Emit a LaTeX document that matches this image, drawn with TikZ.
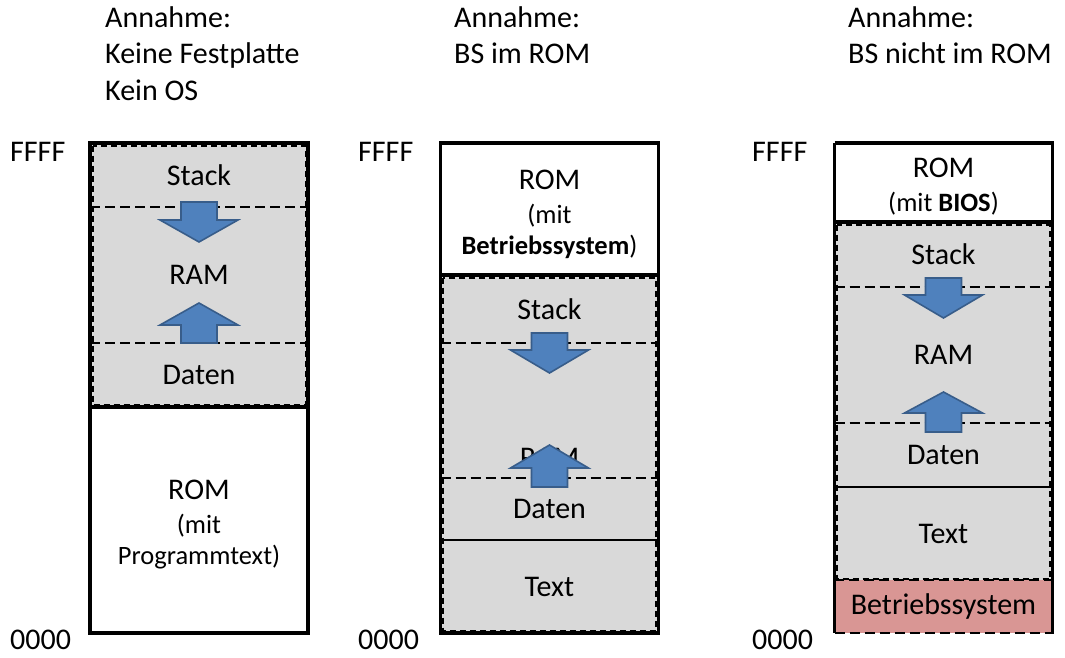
\documentclass[tikz,border=0pt]{standalone}
\usepackage{fontspec}
\setmainfont{Carlito}
\usepackage{tikz}
\usetikzlibrary{positioning}
\definecolor{ramgray}{RGB}{217,217,217}
\definecolor{arrowblue}{RGB}{79,129,189}
\definecolor{arrowedge}{RGB}{56,93,138}
\definecolor{osred}{RGB}{217,150,148}
\newcommand{\memsize}{\fontsize{30}{34}\selectfont}
\newcommand{\subsize}{\fontsize{26.5}{31}\selectfont}
\tikzset{
  cell/.style={minimum width=218pt, inner sep=0pt, outer sep=0pt, align=center, font=\memsize},
  ramcell/.style={cell, fill=ramgray},
  romcell/.style={cell, fill=white},
  oscell/.style={cell, fill=osred, draw, sep},
  memtext/.style={inner sep=0pt, font=\memsize, align=center},
  note/.style={anchor=north west, align=left, inner sep=0pt, font=\fontsize{30}{36.5}\selectfont},
  addr/.style={anchor=west, inner sep=0pt, font=\memsize},
  sep/.style={line width=2.8pt, dash pattern=on 10pt off 5pt},
  groupedge/.style={line width=2pt, dash pattern=on 6pt off 4pt},
  solidsep/.style={line width=2.2pt},
  outer/.style={line width=3.4pt},
  blockarrow/.style={fill=arrowblue, draw=arrowedge, line width=1.6pt, line join=miter}
}
% block arrow: x, shaft end, head base, tip
\newcommand{\blockarrow}[4]{%
  \filldraw[blockarrow] ({#1-18},#2) -- ({#1+18},#2) -- ({#1+18},#3) -- ({#1+39},#3)
    -- (#1,#4) -- ({#1-39},#3) -- ({#1-18},#3) -- cycle;}

\begin{document}
\begin{tikzpicture}[x=1pt, y=-1pt]
\useasboundingbox (0,0) rectangle (1065,658);

% Annahmen
\node[note] (hint1) at (105,6) {Annahme:\\Keine Festplatte\\Kein OS};
\node[note] (hint2) at (454,6) {Annahme:\\BS im ROM};
\node[note] (hint3) at (848,6) {Annahme:\\BS nicht im ROM};

% Spalte 1: kein OS
\node[ramcell, minimum height=64pt] (stack1) at (199,175) {Stack};
\node[ramcell, minimum height=136pt, below=0pt of stack1] (ram1) {RAM};
\node[ramcell, minimum height=64pt, below=0pt of ram1] (daten1) {Daten};
\node[romcell, minimum height=226pt, below=0pt of daten1] (rom1) {};
\node[memtext, yshift=-5pt] (romtext1) at (rom1) {ROM\\{\subsize(mit}\\[-3pt]{\subsize Programmtext)}};
\draw[groupedge] ([shift={(2.5,2.5)}]stack1.north west) rectangle ([shift={(-2.5,-2.5)}]daten1.south east);
\draw[sep] (stack1.south west) -- (stack1.south east);
\draw[sep] (daten1.north west) -- (daten1.north east);
\draw[outer] (daten1.south west) -- (daten1.south east);
\draw[outer] (stack1.north west) rectangle (rom1.south east);

% Spalte 2: BS im ROM
\node[romcell, minimum height=132pt] (rom2) at (549.5,209) {};
\node[memtext, yshift=-5pt] (romtext2) at (rom2) {ROM\\{\subsize(mit}\\[-3pt]{\subsize\textbf{Betriebssystem})}};
\node[ramcell, minimum height=68pt, below=0pt of rom2] (stack2) {Stack};
\node[ramcell, minimum height=135pt, below=0pt of stack2] (ram2) {};
\node[ramcell, minimum height=62pt, below=0pt of ram2] (daten2) {Daten};
\node[ramcell, minimum height=93pt, below=0pt of daten2] (text2) {Text};
\node[memtext, above=10pt of daten2.north] (ramlabel2) {RAM};
\draw[groupedge] ([shift={(2.5,2.5)}]stack2.north west) rectangle ([shift={(-2.5,-2.5)}]text2.south east);
\draw[outer] (rom2.south west) -- (rom2.south east);
\draw[sep] (stack2.south west) -- (stack2.south east);
\draw[sep] (daten2.north west) -- (daten2.north east);
\draw[solidsep] (text2.north west) -- (text2.north east);
\draw[outer] (rom2.north west) rectangle (text2.south east);

% Spalte 3: BS nicht im ROM
\node[romcell, minimum height=79pt] (rom3) at (943.5,182.5) {};
\node[memtext, yshift=-4pt] (romtext3) at (rom3) {ROM\\{\subsize(mit \textbf{BIOS})}};
\node[ramcell, minimum height=65pt, below=0pt of rom3] (stack3) {Stack};
\node[ramcell, minimum height=136pt, below=0pt of stack3] (ram3) {RAM};
\node[ramcell, minimum height=64pt, below=0pt of ram3] (daten3) {Daten};
\node[ramcell, minimum height=93pt, below=0pt of daten3] (text3) {Text};
\node[oscell, minimum height=53pt, below=0pt of text3] (os3) {Betriebssystem};
\draw[groupedge] ([shift={(2.5,2.5)}]stack3.north west) rectangle ([shift={(-2.5,-1)}]text3.south east);
\draw[outer] (rom3.south west) -- (rom3.south east);
\draw[sep] (stack3.south west) -- (stack3.south east);
\draw[sep] (daten3.north west) -- (daten3.north east);
\draw[solidsep] (text3.north west) -- (text3.north east);
\draw[outer] (rom3.north west) -- (rom3.south west |- os3.south) (rom3.north west) -- (rom3.north east) -- (rom3.south east |- os3.north);
\draw[outer] (os3.north east) -- (os3.south east);

% Adressen
\node[addr] (hi1) at (10,152) {FFFF};
\node[addr] (lo1) at (10,640) {0000};
\node[addr] (hi2) at (358,152) {FFFF};
\node[addr] (lo2) at (358,640) {0000};
\node[addr] (hi3) at (752,152) {FFFF};
\node[addr] (lo3) at (752,640) {0000};

% Wachstumsrichtung
\blockarrow{199}{202}{220}{242}
\blockarrow{199}{343}{325}{303}
\blockarrow{549.5}{333}{350}{373}
\blockarrow{549.5}{487}{468}{445}
\blockarrow{943.5}{278}{295}{318}
\blockarrow{943.5}{432}{413}{392}
\end{tikzpicture}
\end{document}
